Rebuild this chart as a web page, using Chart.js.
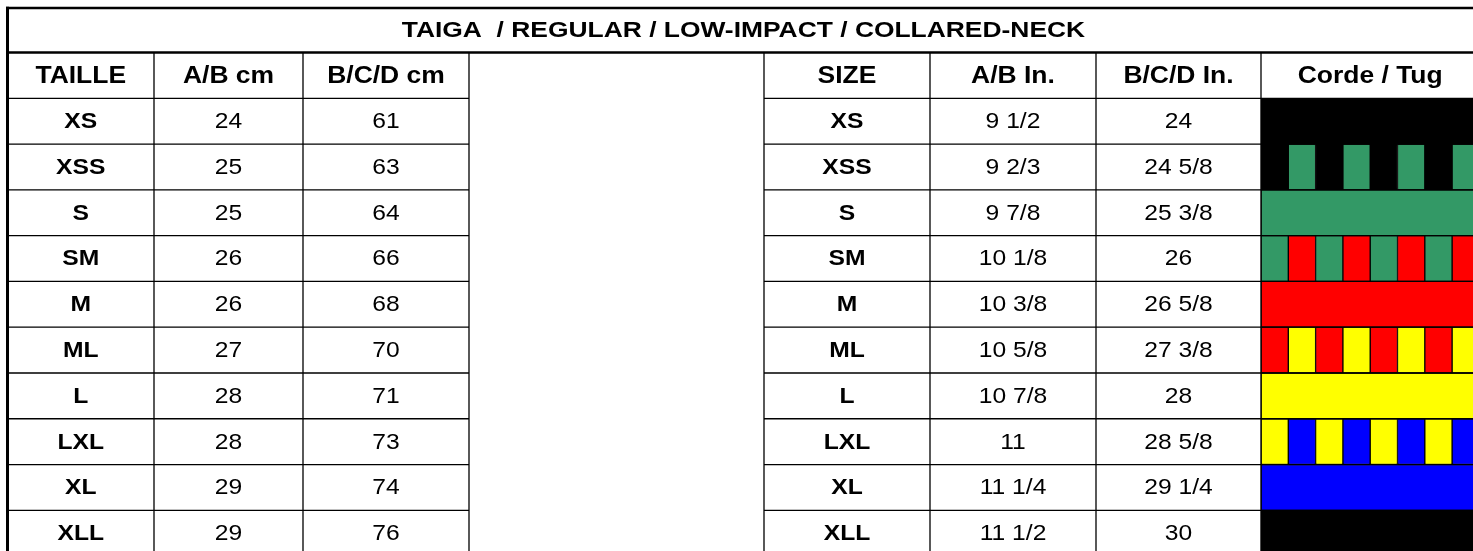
<!DOCTYPE html>
<html>
<head>
<meta charset="utf-8">
<style>
  html, body { margin: 0; padding: 0; background: #ffffff; overflow: hidden; }
  #wrap { position: absolute; left: 0; top: 0; width: 1490px; height: 560px; }
</style>
<script src="https://cdn.jsdelivr.net/npm/chart.js@4.4.1/dist/chart.umd.min.js"></script>
</head>
<body>
<div id="wrap"><canvas id="c" width="1490" height="560"></canvas></div>
<script>
// ---------- DATA ----------
const title = 'TAIGA  / REGULAR / LOW-IMPACT / COLLARED-NECK';
const leftHeaders = ['TAILLE', 'A/B cm', 'B/C/D cm'];
const rightHeaders = ['SIZE', 'A/B In.', 'B/C/D In.', 'Corde / Tug'];
const sizes = ['XS', 'XSS', 'S', 'SM', 'M', 'ML', 'L', 'LXL', 'XL', 'XLL'];
const abCm = [24, 25, 25, 26, 26, 27, 28, 28, 29, 29];
const bcdCm = [61, 63, 64, 66, 68, 70, 71, 73, 74, 76];
const abIn = ['9 1/2', '9 2/3', '9 7/8', '10 1/8', '10 3/8', '10 5/8', '10 7/8', '11', '11 1/4', '11 1/2'];
const bcdIn = ['24', '24 5/8', '25 3/8', '26', '26 5/8', '27 3/8', '28', '28 5/8', '29 1/4', '30'];
const ropeMain = ['black', 'black', 'green', 'green', 'red', 'red', 'yellow', 'yellow', 'blue', 'black'];
const ropeAlt = [null, 'green', null, 'red', null, 'yellow', null, 'blue', null, null];

// ---------- STYLE / LAYOUT ----------
const COLORS = { black: '#000000', green: '#339966', red: '#FF0000', yellow: '#FFFF00', blue: '#0000FF' };
const CANVAS_W = 1490, CANVAS_H = 560;
const ROW_H = 45.78, TOP = 6.74;
const COL = [7.5, 154, 303, 469, 764, 930, 1096, 1261, 1479.4]; // column edges (layout)
const STRIPES = 8;
const FONT = "'Liberation Sans', Arial, Helvetica, sans-serif";
const TITLE_STYLE = { size: 22, sx: 1.2 };
const HEAD_STYLE = { size: 23, sx: 1.15 };
const BODY_STYLE = { size: 22, sx: 1.12 };

const rowLabels = ['title', 'header'].concat(sizes);
const nRows = rowLabels.length;

// stripe datasets (floating horizontal bars)
const ropeX0 = COL[7], ropeX1 = COL[8];
const stripeW = (ropeX1 - ropeX0) / STRIPES;
const datasets = [];
for (let s = 0; s < STRIPES; s++) {
  const data = [null, null];
  const bg = ['#fff', '#fff'];
  sizes.forEach((sz, i) => {
    const alt = ropeAlt[i];
    if (alt === null) {
      data.push(s === 0 ? [ropeX0, ropeX1] : null);
      bg.push(COLORS[ropeMain[i]]);
    } else {
      data.push([ropeX0 + s * stripeW, ropeX0 + (s + 1) * stripeW]);
      bg.push(COLORS[s % 2 === 0 ? ropeMain[i] : alt]);
    }
  });
  datasets.push({
    label: 'stripe ' + (s + 1),
    data: data,
    backgroundColor: bg,
    borderColor: '#000000',
    borderWidth: 1,
    borderSkipped: false,
    grouped: false,
    barPercentage: 1,
    categoryPercentage: 1
  });
}

const tablePlugin = {
  id: 'table',
  afterDatasetsDraw(chart) {
    const ctx = chart.ctx;
    const xs = chart.scales.x, ys = chart.scales.y;
    const X = v => xs.getPixelForValue(v);
    const Y = v => ys.getPixelForValue(v);
    ctx.save();
    ctx.strokeStyle = '#000';
    // thin lines
    ctx.lineWidth = 1.3;
    ctx.beginPath();
    for (let r = 1; r < nRows; r++) {
      const y = Y(r + 0.5);
      ctx.moveTo(X(COL[0]), y); ctx.lineTo(X(COL[3]), y);
      ctx.moveTo(X(COL[4]), y); ctx.lineTo(X(COL[8]), y);
    }
    for (let c = 1; c < COL.length; c++) {
      ctx.moveTo(X(COL[c]), Y(0.5)); ctx.lineTo(X(COL[c]), Y(nRows - 0.5));
    }
    ctx.stroke();
    // thick lines
    ctx.lineWidth = 2.6;
    ctx.beginPath();
    ctx.moveTo(X(COL[0]) - 1.5, Y(-0.5) + 1.3); ctx.lineTo(X(COL[8]) + 2, Y(-0.5) + 1.3);
    ctx.moveTo(X(COL[0]), Y(0.5)); ctx.lineTo(X(COL[8]) + 2, Y(0.5));
    ctx.stroke();
    ctx.lineWidth = 3;
    ctx.beginPath();
    ctx.moveTo(X(COL[0]), Y(-0.5)); ctx.lineTo(X(COL[0]), Y(nRows - 0.5));
    ctx.stroke();

    // text
    ctx.fillStyle = '#000';
    ctx.textAlign = 'center';
    ctx.textBaseline = 'alphabetic';
    const put = (txt, c0, c1, row, st, bold) => {
      const cx = (X(COL[c0]) + X(COL[c1])) / 2;
      const cy = Y(row) + 0.716 * st.size / 2 - 1;
      ctx.save();
      ctx.font = (bold ? 'bold ' : '') + st.size + 'px ' + FONT;
      ctx.translate(cx, cy);
      ctx.scale(st.sx, 1);
      ctx.fillText(String(txt), 0, 0);
      ctx.restore();
    };
    put(title, 0, 8, 0, TITLE_STYLE, true);
    leftHeaders.forEach((h, i) => put(h, i, i + 1, 1, HEAD_STYLE, true));
    rightHeaders.forEach((h, i) => put(h, i + 4, i + 5, 1, HEAD_STYLE, true));
    sizes.forEach((sz, i) => {
      const r = i + 2;
      put(sz, 0, 1, r, BODY_STYLE, true);
      put(abCm[i], 1, 2, r, BODY_STYLE, false);
      put(bcdCm[i], 2, 3, r, BODY_STYLE, false);
      put(sz, 4, 5, r, BODY_STYLE, true);
      put(abIn[i], 5, 6, r, BODY_STYLE, false);
      put(bcdIn[i], 6, 7, r, BODY_STYLE, false);
    });
    ctx.restore();
  }
};

new Chart(document.getElementById('c'), {
  type: 'bar',
  data: { labels: rowLabels, datasets: datasets },
  options: {
    indexAxis: 'y',
    responsive: false,
    animation: false,
    devicePixelRatio: 1,
    layout: { padding: { left: 0, right: 0, top: TOP, bottom: CANVAS_H - TOP - ROW_H * nRows } },
    plugins: { legend: { display: false }, tooltip: { enabled: false }, title: { display: false } },
    scales: {
      x: { type: 'linear', min: 0, max: CANVAS_W, display: false },
      y: { type: 'category', display: false, offset: true, grid: { display: false } }
    }
  },
  plugins: [tablePlugin]
});
</script>
</body>
</html>
